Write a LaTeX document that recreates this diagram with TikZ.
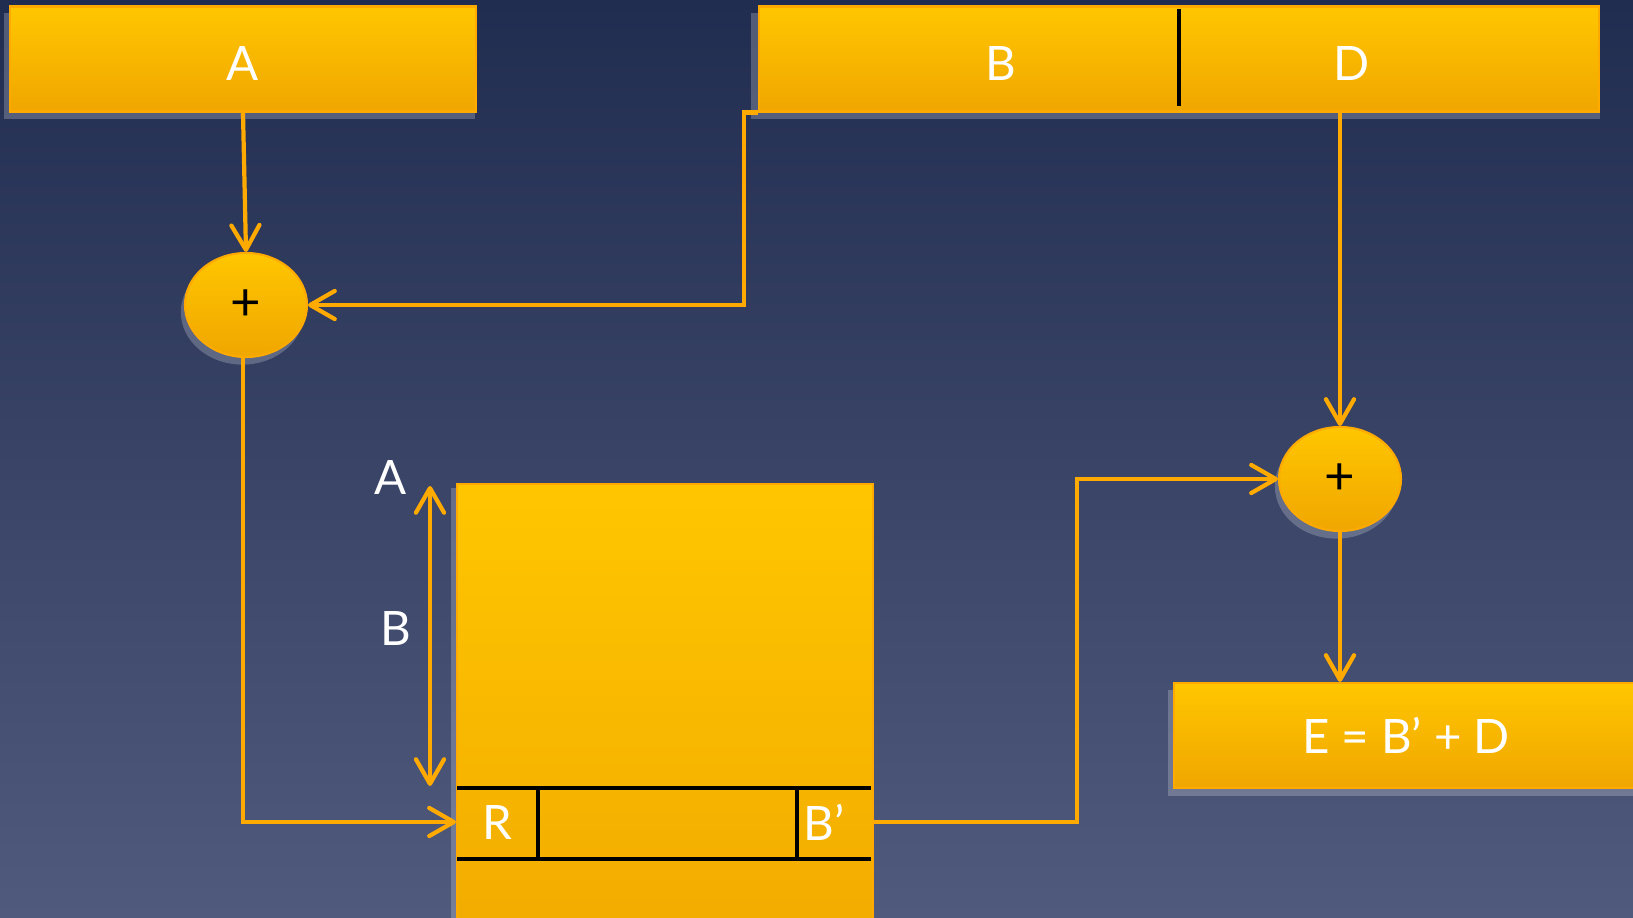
\documentclass[tikz,border=0pt]{standalone}
\usepackage{fontspec}
\setmainfont{Lato}
\usetikzlibrary{arrows.meta, positioning, calc, shapes.geometric, shadows}
\definecolor{bgtop}{RGB}{33,45,80}
\definecolor{bgbot}{RGB}{80,90,124}
\definecolor{boxtop}{RGB}{255,198,0}
\definecolor{boxbot}{RGB}{240,166,0}
\definecolor{wire}{RGB}{255,170,0}
\tikzset{
  glow/.style={drop shadow={fill=white, opacity=0.22, shadow xshift=-1pt, shadow yshift=-2pt, shadow scale=1.01}},
  regbox/.style={draw=wire, line width=0.6pt, top color=boxtop, bottom color=boxbot,
    minimum height=1.05cm, inner sep=0pt, glow},
  adder/.style={ellipse, draw=wire, line width=0.6pt, top color=boxtop, bottom color=boxbot,
    minimum width=1.22cm, minimum height=1.04cm, inner sep=0pt, glow,
    font=\fontsize{15}{16}\selectfont},
  lbl/.style={text=white, inner sep=0pt, font=\fontsize{13.5}{16}\selectfont},
  barb/.tip={Straight Barb[length=7pt,width=8pt,round]},
  wirearrow/.style={draw=wire, line width=1.2pt, -barb},
  divider/.style={draw=black, line width=1.2pt},
}
\begin{document}
\begin{tikzpicture}
	% Background
	\clip (0,0) rectangle (16.33,9.17);
	\shade[top color=bgtop, bottom color=bgbot] (0,0) rectangle (16.33,9.17);
	% Input registers
	\node[regbox, minimum width=4.66cm] (A) at (2.43,8.58) {};
	\node[lbl] (lblA1) at (2.43,8.53) {A};
	\node[regbox, minimum width=8.40cm] (bd) at (11.79,8.58) {};
	\node[lbl] (lblB) at (10.01,8.53) {B};
	\node[lbl] (lblD) at (13.52,8.53) {D};
	\draw[divider] ([yshift=-1pt]bd.north) -- ([yshift=2pt]bd.south);
	% Adders
	\node[adder] (plus1) at (2.46,6.12) {+};
	\node[adder] (plus2) at (13.40,4.38) {+};
	% Memory
	\node[regbox, minimum width=4.16cm, minimum height=5.4cm] (mem) at (6.65,1.63) {};
	\draw[divider] (4.57,1.29) -- (8.71,1.29);
	\draw[divider] (4.57,0.58) -- (8.71,0.58);
	\draw[divider] (5.38,1.29) -- (5.38,0.58);
	\draw[divider] (7.97,1.29) -- (7.97,0.58);
	\node[lbl] (R) at (4.97,0.95) {R};
	\node[lbl] (Bp) at (8.24,0.95) {B’};
	% Address span
	\coordinate (spanTop) at (4.30,4.31);
	\coordinate (spanBot) at (4.30,1.31);
	\draw[wirearrow, barb-barb] (spanTop) -- (spanBot);
	\node[lbl] (lblA) at (3.91,4.40) {A};
	\node[lbl] (lblSpan) at (3.96,2.89) {B};
	% Result register
	\node[regbox, minimum width=4.64cm, lbl] (E) at (14.06,1.815) {E = B’ + D};
	% Connectors
	\draw[wirearrow] (A.south) -- (plus1.north);
	\draw[wirearrow] (bd.south west) -- ++(-0.14,0) |- (plus1.east);
	\draw[wirearrow] (plus2.north |- bd.south) -- (plus2.north);
	\draw[wirearrow] ([xshift=-0.03cm]plus1.south) |- (mem.west |- R);
	\draw[wirearrow] (mem.east |- Bp) -- ++(2.03,0) |- (plus2.west);
	\draw[wirearrow] (plus2.south) -- (plus2.south |- E.north);
\end{tikzpicture}
\end{document}
